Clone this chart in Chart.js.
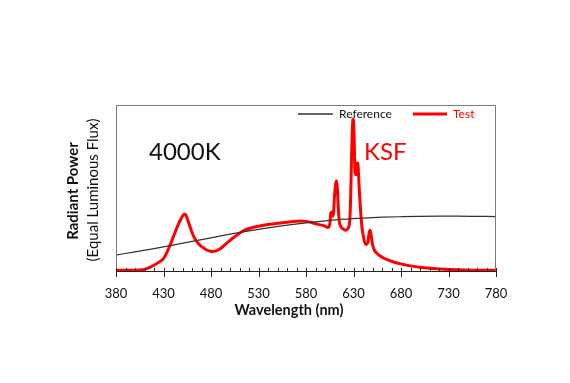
<!DOCTYPE html>
<html>
<head>
<meta charset="utf-8">
<script src="https://cdn.jsdelivr.net/npm/chart.js@4.4.1/dist/chart.umd.min.js"></script>
<style>
html,body{margin:0;padding:0;background:#fff;}
#wrap{width:570px;height:383px;}
</style>
</head>
<body>
<div id="wrap"><canvas id="c" width="570" height="383"></canvas></div>
<script>
// Reference (blackbody-like) spectrum
const refNm = [380,400,420,440,460,480,500,520,540,560,580,600,620,640,660,680,700,720,740,760,780];
const refValues = [0.096,0.115,0.135,0.156,0.178,0.2,0.222,0.242,0.26,0.276,0.29,0.302,0.312,0.319,0.324,0.327,0.329,0.33,0.33,0.329,0.328];

// Test (KSF) spectrum
const testNm = [380,390,400,405,410,415,420,425,430,435,440,444,448,451,453,455,458,462,466,470,475,480,485,490,495,500,505,510,515,520,525,530,540,550,560,570,575,580,585,590,595,600,603,605,606,607,608,609,610,612,613,614,615,617,620,622,624,626,627,628,629.5,630.5,631.5,632.5,633.5,634.5,635.5,636.5,637.5,639,641,643,645,646.5,647.5,648.5,650,652,655,658,662,666,670,675,680,690,700,710,720,730,740,760,780];
const testValues = [0.005,0.005,0.005,0.006,0.01,0.02,0.035,0.052,0.075,0.13,0.2,0.26,0.31,0.338,0.342,0.315,0.265,0.205,0.17,0.148,0.128,0.118,0.12,0.135,0.16,0.185,0.207,0.228,0.245,0.256,0.264,0.27,0.28,0.287,0.294,0.299,0.301,0.299,0.294,0.285,0.278,0.27,0.262,0.28,0.345,0.355,0.33,0.35,0.45,0.544,0.5,0.38,0.3,0.265,0.25,0.245,0.255,0.3,0.44,0.7,0.916,0.85,0.6,0.58,0.645,0.65,0.56,0.45,0.36,0.26,0.19,0.16,0.17,0.23,0.245,0.22,0.16,0.125,0.105,0.09,0.077,0.067,0.059,0.05,0.043,0.031,0.022,0.016,0.012,0.009,0.007,0.005,0.005];

const xMin = 380, xMax = 780, xStep = 10, xLabelStep = 50;
const seriesNames = ['Reference','Test'];
const yTitle1 = 'Radiant Power';
const yTitle2 = '(Equal Luminous Flux)';
const xTitle = 'Wavelength (nm)';
const note1 = '4000K';
const note2 = 'KSF';

const FONT = 'Lato, "Open Sans", sans-serif';
const refColor = '#333333';
const testColor = '#ff0000';
const isMajor = v => Math.round(v - xMin) % xLabelStep === 0;

const decor = {
  id: 'decor',
  afterDraw(chart) {
    const ctx = chart.ctx, a = chart.chartArea, xs = chart.scales.x;
    ctx.save();
    // frame
    ctx.strokeStyle = '#7a7a7a';
    ctx.lineWidth = 1;
    ctx.beginPath();
    ctx.moveTo(a.left + 0.5, a.bottom);
    ctx.lineTo(a.left + 0.5, a.top + 0.5);
    ctx.lineTo(a.right - 0.5, a.top + 0.5);
    ctx.lineTo(a.right - 0.5, a.bottom);
    ctx.stroke();
    // x axis line
    ctx.strokeStyle = '#222';
    ctx.beginPath();
    ctx.moveTo(a.left, a.bottom + 0.5);
    ctx.lineTo(a.right, a.bottom + 0.5);
    ctx.stroke();
    // ticks
    xs.ticks.forEach(t => {
      const px = Math.round(xs.getPixelForValue(t.value)) + 0.5;
      const major = isMajor(t.value);
      ctx.beginPath();
      ctx.moveTo(px, a.bottom - 3);
      ctx.lineTo(px, a.bottom + (major ? 6 : 0.5));
      ctx.stroke();
    });
    // annotations
    ctx.textBaseline = 'middle';
    ctx.textAlign = 'left';
    ctx.font = '24px ' + FONT;
    ctx.fillStyle = '#111';
    ctx.fillText(note1, 149, 152);
    ctx.fillStyle = testColor;
    ctx.fillText(note2, 364, 152);
    // legend
    const ly = 114;
    ctx.strokeStyle = refColor; ctx.lineWidth = 1.3;
    ctx.beginPath(); ctx.moveTo(298, ly); ctx.lineTo(333, ly); ctx.stroke();
    ctx.strokeStyle = testColor; ctx.lineWidth = 3;
    ctx.beginPath(); ctx.moveTo(413, ly); ctx.lineTo(447, ly); ctx.stroke();
    ctx.font = '12px ' + FONT;
    ctx.fillStyle = '#111';
    ctx.fillText(seriesNames[0], 339, ly);
    ctx.fillStyle = testColor;
    ctx.fillText(seriesNames[1], 453, ly);
    // axis titles
    ctx.fillStyle = '#111';
    ctx.textAlign = 'center';
    ctx.font = 'bold 14.5px ' + FONT;
    ctx.fillText(xTitle, 289, 310);
    ctx.save();
    ctx.translate(73, 191);
    ctx.rotate(-Math.PI / 2);
    ctx.font = 'bold 15px ' + FONT;
    ctx.fillText(yTitle1, 0, 0);
    ctx.restore();
    ctx.save();
    ctx.translate(93, 190);
    ctx.rotate(-Math.PI / 2);
    ctx.font = '15px ' + FONT;
    ctx.fillText(yTitle2, 0, 0);
    ctx.restore();
    ctx.restore();
  }
};

new Chart(document.getElementById('c'), {
  type: 'line',
  data: {
    datasets: [
      {
        label: seriesNames[0],
        data: refNm.map((x, i) => ({x, y: refValues[i]})),
        borderColor: refColor,
        borderWidth: 1.2,
        pointRadius: 0,
        cubicInterpolationMode: 'monotone',
        clip: false
      },
      {
        label: seriesNames[1],
        data: testNm.map((x, i) => ({x, y: testValues[i]})),
        borderColor: testColor,
        borderWidth: 3,
        pointRadius: 0,
        cubicInterpolationMode: 'monotone',
        clip: false
      }
    ]
  },
  options: {
    responsive: false,
    animation: false,
    layout: { padding: { left: 116, right: 74, top: 105, bottom: 0 } },
    plugins: { legend: { display: false }, tooltip: { enabled: false } },
    scales: {
      x: {
        type: 'linear',
        min: xMin, max: xMax,
        grid: { display: false },
        border: { display: false },
        afterFit(scale) { scale.height = 112; },
        afterBuildTicks(scale) {
          const t = [];
          for (let v = xMin; v <= xMax; v += xStep) t.push({ value: v });
          scale.ticks = t;
        },
        ticks: {
          autoSkip: false,
          maxRotation: 0,
          padding: 7,
          color: '#111',
          font: { family: FONT, size: 13 },
          callback: v => (isMajor(v) ? String(v) : '')
        }
      },
      y: {
        display: false,
        min: 0, max: 1
      }
    }
  },
  plugins: [decor]
});
</script>
</body>
</html>
